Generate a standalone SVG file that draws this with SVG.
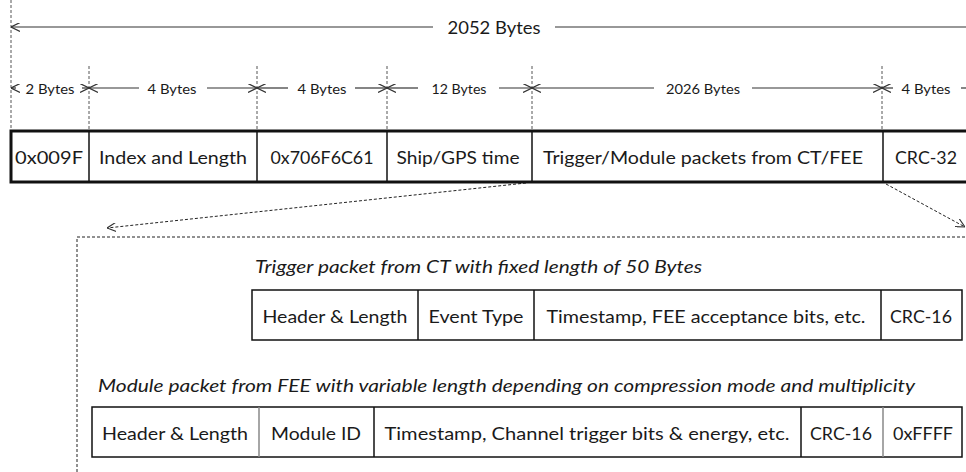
<svg xmlns="http://www.w3.org/2000/svg" width="966" height="472" viewBox="0 0 966 472">
<defs>
<style>
text{font-family:Lato,"Open Sans","Liberation Sans",sans-serif;fill:#1a1a1a;dominant-baseline:central}
.t{font-size:18px;text-anchor:middle}
.s{font-size:14px;text-anchor:middle}
.cap{font-size:18px;font-style:italic}
.dim{stroke:#333;stroke-width:1.2;fill:none}
.vd{stroke:#555;stroke-width:1;stroke-dasharray:3,2}
.box{fill:#fff;stroke:#111;stroke-width:1.5}
.thick{fill:none;stroke:#111;stroke-width:3}
.div{stroke:#111;stroke-width:1.5}
.gdiv{stroke:#888;stroke-width:1.5}
.dash{fill:none;stroke:#222;stroke-width:1;stroke-dasharray:3,2}
</style>
<marker id="ah" viewBox="0 0 10 10" refX="10" refY="5" markerWidth="9" markerHeight="9" markerUnits="userSpaceOnUse" orient="auto-start-reverse">
<path d="M0,0 L10,5 L0,10" fill="none" stroke="#333" stroke-width="1.3"/>
</marker>
</defs>

<g id="dimension-guides">
<line class="vd" x1="11" y1="0" x2="11" y2="131"/>
<line class="vd" x1="89" y1="66" x2="89" y2="131"/>
<line class="vd" x1="257" y1="66" x2="257" y2="131"/>
<line class="vd" x1="387" y1="66" x2="387" y2="131"/>
<line class="vd" x1="532" y1="66" x2="532" y2="131"/>
<line class="vd" x1="882" y1="66" x2="882" y2="131"/>
</g>

<g id="connectors">
<line class="dim" x1="433" y1="27" x2="11" y2="27" marker-end="url(#ah)"/>
<line class="dim" x1="555" y1="27" x2="966" y2="27"/>
<line class="dim" x1="16" y1="88" x2="11" y2="88" marker-end="url(#ah)"/>
<line class="dim" x1="82" y1="88" x2="89" y2="88" marker-end="url(#ah)"/>
<line class="dim" x1="139" y1="88" x2="89" y2="88" marker-end="url(#ah)"/>
<line class="dim" x1="207" y1="88" x2="257" y2="88" marker-end="url(#ah)"/>
<line class="dim" x1="288" y1="88" x2="257" y2="88" marker-end="url(#ah)"/>
<line class="dim" x1="355" y1="88" x2="387" y2="88" marker-end="url(#ah)"/>
<line class="dim" x1="418" y1="88" x2="387" y2="88" marker-end="url(#ah)"/>
<line class="dim" x1="499" y1="88" x2="532" y2="88" marker-end="url(#ah)"/>
<line class="dim" x1="654" y1="88" x2="532" y2="88" marker-end="url(#ah)"/>
<line class="dim" x1="752" y1="88" x2="882" y2="88" marker-end="url(#ah)"/>
<line class="dim" x1="893" y1="88" x2="882" y2="88" marker-end="url(#ah)"/>
<line class="dim" x1="961" y1="88" x2="966" y2="88"/>
<line class="dash" x1="526" y1="183" x2="107" y2="228" marker-end="url(#ah)"/>
<line class="dash" x1="886" y1="184" x2="965" y2="227" marker-end="url(#ah)"/>
</g>

<g id="dimension-labels">
<text class="t" x="494" y="27" textLength="93" lengthAdjust="spacingAndGlyphs">2052 Bytes</text>
<text class="s" x="50" y="88" textLength="49" lengthAdjust="spacingAndGlyphs">2 Bytes</text>
<text class="s" x="172" y="88" textLength="49" lengthAdjust="spacingAndGlyphs">4 Bytes</text>
<text class="s" x="322" y="88" textLength="49" lengthAdjust="spacingAndGlyphs">4 Bytes</text>
<text class="s" x="459" y="88" textLength="55" lengthAdjust="spacingAndGlyphs">12 Bytes</text>
<text class="s" x="703" y="88" textLength="74" lengthAdjust="spacingAndGlyphs">2026 Bytes</text>
<text class="s" x="926" y="88" textLength="49" lengthAdjust="spacingAndGlyphs">4 Bytes</text>
</g>

<g id="main-packet">
<rect class="box" x="11" y="131" width="980" height="51"/>
<rect class="thick" x="11" y="131" width="980" height="51"/>
<line class="div" x1="89" y1="131" x2="89" y2="182"/>
<line class="div" x1="257" y1="131" x2="257" y2="182"/>
<line class="div" x1="387" y1="131" x2="387" y2="182"/>
<line class="div" x1="532" y1="131" x2="532" y2="182"/>
<line class="div" x1="883" y1="131" x2="883" y2="182"/>
<text class="t" x="49" y="157" textLength="68" lengthAdjust="spacingAndGlyphs">0x009F</text>
<text class="t" x="173" y="157" textLength="148" lengthAdjust="spacingAndGlyphs">Index and Length</text>
<text class="t" x="322" y="157" textLength="103" lengthAdjust="spacingAndGlyphs">0x706F6C61</text>
<text class="t" x="458" y="157" textLength="123" lengthAdjust="spacingAndGlyphs">Ship/GPS time</text>
<text class="t" x="703" y="157" textLength="320" lengthAdjust="spacingAndGlyphs">Trigger/Module packets from CT/FEE</text>
<text class="t" x="926" y="157" textLength="62" lengthAdjust="spacingAndGlyphs">CRC-32</text>
</g>

<g id="detail-frame">
<rect class="dash" x="77" y="237" width="1000" height="300"/>
</g>

<g id="trigger-packet">
<text class="cap" x="255" y="266" textLength="447" lengthAdjust="spacingAndGlyphs">Trigger packet from CT with fixed length of 50 Bytes</text>
<rect class="box" x="252" y="290" width="710" height="50"/>
<line class="div" x1="418" y1="290" x2="418" y2="340"/>
<line class="div" x1="534" y1="290" x2="534" y2="340"/>
<line class="div" x1="881" y1="290" x2="881" y2="340"/>
<text class="t" x="335" y="316" textLength="145" lengthAdjust="spacingAndGlyphs">Header &amp; Length</text>
<text class="t" x="476" y="316" textLength="95" lengthAdjust="spacingAndGlyphs">Event Type</text>
<text class="t" x="706" y="316" textLength="319" lengthAdjust="spacingAndGlyphs">Timestamp, FEE acceptance bits, etc.</text>
<text class="t" x="921" y="316" textLength="62" lengthAdjust="spacingAndGlyphs">CRC-16</text>
</g>

<g id="module-packet">
<text class="cap" x="98" y="385" textLength="817" lengthAdjust="spacingAndGlyphs">Module packet from FEE with variable length depending on compression mode and multiplicity</text>
<rect class="box" x="92" y="407" width="870" height="50"/>
<line class="gdiv" x1="259" y1="407" x2="259" y2="457"/>
<line class="div" x1="374" y1="407" x2="374" y2="457"/>
<line class="div" x1="801" y1="407" x2="801" y2="457"/>
<line class="gdiv" x1="883" y1="407" x2="883" y2="457"/>
<text class="t" x="175" y="433" textLength="146" lengthAdjust="spacingAndGlyphs">Header &amp; Length</text>
<text class="t" x="316" y="433" textLength="90" lengthAdjust="spacingAndGlyphs">Module ID</text>
<text class="t" x="587" y="433" textLength="405" lengthAdjust="spacingAndGlyphs">Timestamp, Channel trigger bits &amp; energy, etc.</text>
<text class="t" x="841" y="433" textLength="62" lengthAdjust="spacingAndGlyphs">CRC-16</text>
<text class="t" x="923" y="433" textLength="60" lengthAdjust="spacingAndGlyphs">0xFFFF</text>
</g>
</svg>
